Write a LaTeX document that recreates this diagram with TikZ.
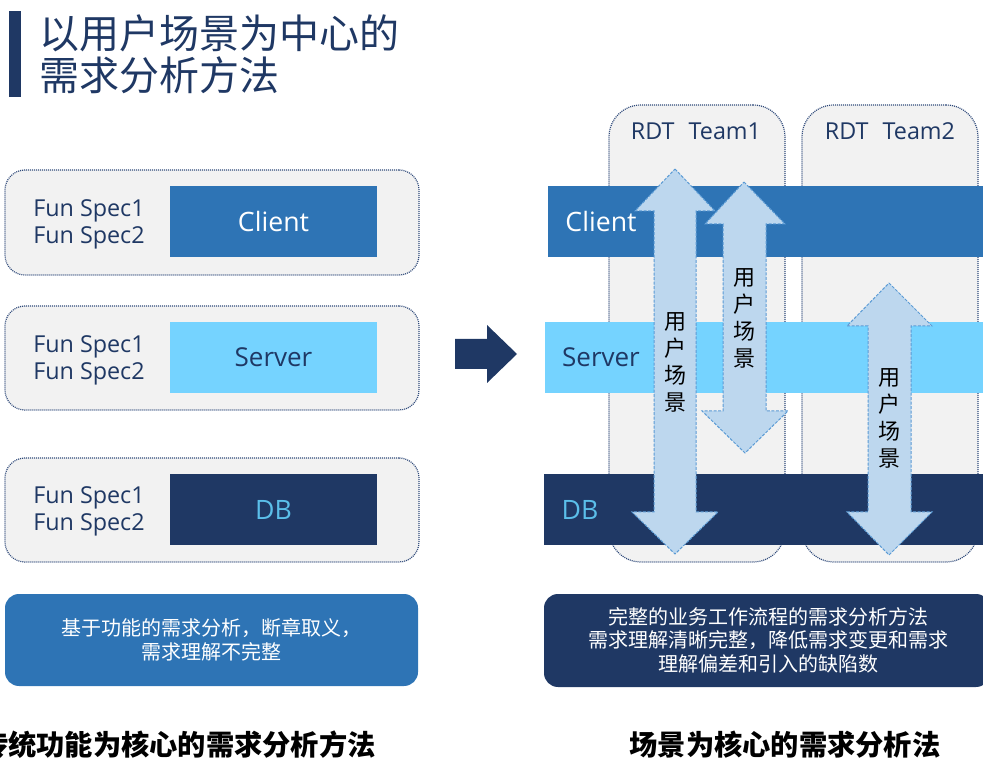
\documentclass[tikz,border=0pt]{standalone}
\usepackage{fontspec}
\setmainfont{Open Sans}
\newfontfamily\cjk{Noto Sans CJK SC}
\newdimen\px
\px=0.75pt
\definecolor{navy}{HTML}{1F3864}
\definecolor{midblue}{HTML}{2E74B5}
\definecolor{skyb}{HTML}{75D3FF}
\definecolor{panel}{HTML}{F2F2F2}
\definecolor{arrowfill}{HTML}{BDD7EE}
\definecolor{arrowline}{HTML}{5B9BD5}
\definecolor{dbtext}{HTML}{5BBFEA}
\definecolor{dotline}{HTML}{2F4A7A}
\tikzset{
  x=0.75pt, y=-0.75pt,
  panelbox/.style={draw=dotline, fill=panel, line width=1.2\px, dash pattern=on 1\px off 1\px, rounded corners=20\px, inner sep=0pt},
  teambox/.style={panelbox, rounded corners=32\px},
  tier/.style={inner sep=0pt, draw=none, font=\fontsize{20}{24}\selectfont},
  clienttier/.style={tier, fill=midblue, text=white},
  servertier/.style={tier, fill=skyb, text=navy, font=\fontsize{19.5}{24}\selectfont},
  dbtier/.style={tier, fill=navy, text=dbtext},
  tierlabel/.style={inner sep=0pt, font=\fontsize{20}{24}\selectfont},
  spec/.style={inner sep=0pt, align=left, text=navy, font=\fontsize{17.5}{20.25}\selectfont},
  teamlabel/.style={inner sep=0pt, text=navy, font=\fontsize{17.5}{20}\selectfont},
  sharp/.style={draw=arrowline, fill=arrowfill, line width=1\px, dash pattern=on 3\px off 1.5\px},
  vlabel/.style={inner sep=0pt, align=center, text=black, font=\cjk\fontsize{16.5}{20.25}\selectfont},
  note/.style={rounded corners=14\px, inner sep=0pt, align=center, text=white, font=\cjk\fontsize{15}{17.6}\selectfont},
  caption/.style={inner sep=0pt, text=black, font=\cjk\bfseries\fontsize{21.2}{25}\selectfont},
}
\begin{document}
\begin{tikzpicture}
\useasboundingbox (0,0) rectangle (983,759);
\clip (0,0) rectangle (983,759);
% title
\fill[navy] (9,11) rectangle (21,97);
\node[inner sep=0pt, anchor=west, align=left, text=navy, font=\cjk\fontsize{30}{31.5}\selectfont] (title) at (39.5,54) {以用户场景为中心的\\需求分析方法};
% left panels
\node[panelbox, minimum width=414\px, minimum height=105\px] (p1) at (212,222.5) {};
\node[panelbox, minimum width=414\px, minimum height=104\px] (p2) at (212,358) {};
\node[panelbox, minimum width=414\px, minimum height=104\px] (p3) at (212,510) {};
\node[clienttier, minimum width=207\px, minimum height=71\px] (c1) at (273.5,221.5) {Client};
\node[servertier, minimum width=207\px, minimum height=71\px] (s1) at (273.5,357.5) {Server};
\node[dbtier, minimum width=207\px, minimum height=71\px] (d1) at (273.5,509.5) {DB};
\node[spec, anchor=west] (f1) at (33,224) {Fun Spec1\\Fun Spec2};
\node[spec, anchor=west] (f2) at (33,360) {Fun Spec1\\Fun Spec2};
\node[spec, anchor=west] (f3) at (33,511) {Fun Spec1\\Fun Spec2};
% big arrow
\fill[navy] (455,339) -- (487,339) -- (487,325) -- (517,354) -- (487,383) -- (487,369) -- (455,369) -- cycle;
% teams
\node[teambox, minimum width=176\px, minimum height=457\px] (t1) at (697,333.5) {};
\node[teambox, minimum width=176\px, minimum height=457\px] (t2) at (890,333.5) {};
\node[teamlabel] (t1l) at (696,131) {RDT\hspace{0.6em}Team1};
\node[teamlabel] (t2l) at (890,131) {RDT\hspace{0.6em}Team2};
% bars
\fill[midblue] (548,186) rectangle (983,257);
\fill[skyb] (545,322) rectangle (983,393);
\fill[navy] (544,474) rectangle (983,545);
\node[tierlabel, text=white] (c2) at (601,221.5) {Client};
\node[tierlabel, text=navy, font=\fontsize{19.5}{24}\selectfont] (s2) at (601,357.5) {Server};
\node[tierlabel, text=dbtext] (d2) at (580,509.5) {DB};
% double arrows
\draw[sharp] (675,169) -- (715,211) -- (696,211) -- (696,512) -- (718,512) -- (675,554) -- (632,512) -- (654,512) -- (654,211) -- (635,211) -- cycle;
\draw[sharp] (744,182) -- (785,224) -- (766,224) -- (766,411) -- (788,411) -- (745,453) -- (702,411) -- (723,411) -- (723,224) -- (705,224) -- cycle;
\draw[sharp] (889,283) -- (932,326) -- (911,326) -- (911,512) -- (932,512) -- (889,555) -- (847,512) -- (868,512) -- (868,326) -- (847,326) -- cycle;
\node[vlabel] (a1) at (675,362) {用\\户\\场\\景};
\node[vlabel] (a2) at (744,318) {用\\户\\场\\景};
\node[vlabel] (a3) at (889,418) {用\\户\\场\\景};
% notes
\node[note, fill=midblue, minimum width=413\px, minimum height=92\px] (n1) at (211.5,640) {基于功能的需求分析，断章取义，\\需求理解不完整};
\node[note, fill=navy, minimum width=446\px, minimum height=93\px] (n2) at (767,640.5) {};
\node[inner sep=0pt, align=center, text=white, font=\cjk\fontsize{15}{17.6}\selectfont] (n2t) at (768,640) {完整的业务工作流程的需求分析方法\\需求理解清晰完整，降低需求变更和需求\\理解偏差和引入的缺陷数};
% captions
\node[caption, anchor=east] (cap1) at (376,745) {传统功能为核心的需求分析方法};
\node[caption] (cap2) at (785,745) {场景为核心的需求分析法};
\end{tikzpicture}
\end{document}
